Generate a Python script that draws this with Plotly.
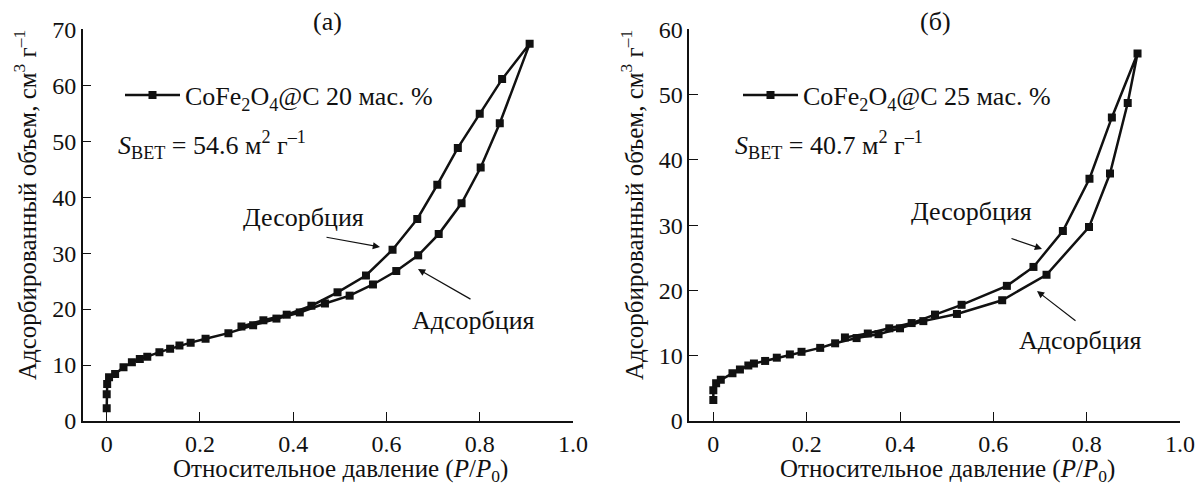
import plotly.graph_objects as go

W, H = 1197, 488

# ---- Panel (a): CoFe2O4@C 20 mass % ----
a_ads_x = [0.0, 0.0, 0.001, 0.005, 0.018, 0.036, 0.054, 0.071, 0.087, 0.113, 0.136, 0.156,
           0.180, 0.212, 0.261, 0.314, 0.364, 0.414, 0.468, 0.521, 0.571, 0.621, 0.668,
           0.712, 0.761, 0.802, 0.843, 0.907]
a_ads_y = [2.3, 4.8, 6.6, 7.8, 8.4, 9.6, 10.5, 11.1, 11.5, 12.3, 12.9, 13.5,
           14.0, 14.7, 15.7, 17.1, 18.3, 19.4, 21.0, 22.4, 24.4, 26.8, 29.6,
           33.4, 38.9, 45.3, 53.2, 67.4]
a_des_x = [0.848, 0.800, 0.753, 0.709, 0.666, 0.613, 0.556, 0.495, 0.439, 0.386, 0.336, 0.289]
a_des_y = [61.1, 54.9, 48.8, 42.2, 36.1, 30.6, 26.0, 23.0, 20.6, 19.0, 18.0, 16.9]

# ---- Panel (б): CoFe2O4@C 25 mass % ----
b_ads_x = [0.0, 0.0, 0.006, 0.016, 0.041, 0.057, 0.075, 0.087, 0.111, 0.136, 0.164, 0.189,
           0.229, 0.261, 0.307, 0.354, 0.400, 0.450, 0.522, 0.619, 0.714, 0.805, 0.850,
           0.888, 0.909]
b_ads_y = [3.2, 4.7, 5.8, 6.3, 7.3, 7.9, 8.5, 8.8, 9.2, 9.7, 10.2, 10.6,
           11.2, 11.9, 12.7, 13.3, 14.2, 15.3, 16.4, 18.5, 22.4, 29.7, 37.9,
           48.7, 56.3]
b_des_x = [0.854, 0.806, 0.749, 0.686, 0.629, 0.532, 0.475, 0.425, 0.377, 0.331, 0.282]
b_des_y = [46.5, 37.1, 29.1, 23.6, 20.7, 17.8, 16.3, 15.0, 14.2, 13.4, 12.8]

x_tickvals = [0, 0.2, 0.4, 0.6, 0.8, 1.0]
x_ticktext = ["0", "0.2", "0.4", "0.6", "0.8", "1.0"]
a_yticks = [0, 10, 20, 30, 40, 50, 60, 70]
b_yticks = [0, 10, 20, 30, 40, 50, 60]

label_a = "CoFe<sub>2</sub>O<sub>4</sub>@C 20 мас. %"
label_b = "CoFe<sub>2</sub>O<sub>4</sub>@C 25 мас. %"
sbet_a = "<i>S</i><sub>BET</sub> = 54.6 м<sup>2</sup> г<sup>–1</sup>"
sbet_b = "<i>S</i><sub>BET</sub> = 40.7 м<sup>2</sup> г<sup>–1</sup>"
xtitle = "Относительное давление (<i>P</i>/<i>P</i><sub>0</sub>)"
ytitle = "Адсорбированный объем, см<sup>3</sup> г<sup>–1</sup>"

FONT = "Liberation Serif, Times New Roman, Times, serif"
BLACK = "#111111"
FS = 26
TICKFS = 24

def px(x):
    return x / W

def py(y):
    return 1 - y / H

fig = go.Figure()
fig.add_trace(go.Scatter(
    x=a_ads_x + a_des_x, y=a_ads_y + a_des_y, mode="lines+markers", name=label_a,
    line=dict(color=BLACK, width=2.5), marker=dict(symbol="square", size=8, color=BLACK),
    xaxis="x", yaxis="y", legend="legend"))
fig.add_trace(go.Scatter(
    x=b_ads_x + b_des_x, y=b_ads_y + b_des_y, mode="lines+markers", name=label_b,
    line=dict(color=BLACK, width=2.5), marker=dict(symbol="square", size=8, color=BLACK),
    xaxis="x2", yaxis="y2", legend="legend2"))

ydom = [py(421), py(29.3)]
axcommon = dict(showgrid=False, zeroline=False, showline=True, linecolor=BLACK, linewidth=1.5,
                ticks="inside", ticklen=9, tickwidth=1.3, tickcolor=BLACK,
                tickfont=dict(family=FONT, size=TICKFS, color=BLACK), automargin=False)

xa = dict(axcommon, range=[-0.0515, 1.0], tickvals=x_tickvals, ticktext=x_ticktext)
legcommon = dict(xanchor="left", yanchor="middle", bgcolor="rgba(0,0,0,0)",
                 font=dict(family=FONT, size=FS, color=BLACK), itemwidth=55)
fig.update_layout(
    width=W, height=H, margin=dict(l=0, r=0, t=0, b=0),
    paper_bgcolor="white", plot_bgcolor="white",
    xaxis=dict(xa, domain=[px(82.7), px(573)], anchor="y"),
    yaxis=dict(axcommon, domain=ydom, range=[0, 70], tickvals=a_yticks, anchor="x"),
    xaxis2=dict(xa, domain=[px(689.3), px(1180)], anchor="y2"),
    yaxis2=dict(axcommon, domain=ydom, range=[0, 60], tickvals=b_yticks, anchor="x2"),
    legend=dict(legcommon, x=px(120), y=py(95)),
    legend2=dict(legcommon, x=px(738), y=py(95)),
    showlegend=True,
)

tfont = dict(family=FONT, size=FS, color=BLACK)
titfont = dict(family=FONT, size=25, color=BLACK)
anns = [
    dict(text="(а)", x=px(327), y=py(22), xanchor="center", yanchor="middle"),
    dict(text="(б)", x=px(935), y=py(22), xanchor="center", yanchor="middle"),
    dict(text=sbet_a, x=px(116), y=py(145), xanchor="left", yanchor="middle"),
    dict(text=sbet_b, x=px(733), y=py(145), xanchor="left", yanchor="middle"),
    dict(text="Десорбция", x=px(303), y=py(217), xanchor="center", yanchor="middle"),
    dict(text="Адсорбция", x=px(473), y=py(320), xanchor="center", yanchor="middle"),
    dict(text="Десорбция", x=px(971), y=py(212), xanchor="center", yanchor="middle"),
    dict(text="Адсорбция", x=px(1080), y=py(340), xanchor="center", yanchor="middle"),
]
for a in anns:
    a.update(xref="paper", yref="paper", showarrow=False, font=tfont)

titles = [
    dict(text=ytitle, x=px(25), y=py(205), xanchor="center", yanchor="middle", textangle=-90),
    dict(text=ytitle, x=px(632), y=py(205), xanchor="center", yanchor="middle", textangle=-90),
    dict(text=xtitle, x=px(340), y=py(470), xanchor="center", yanchor="middle"),
    dict(text=xtitle, x=px(947), y=py(470), xanchor="center", yanchor="middle"),
]
for a in titles:
    a.update(xref="paper", yref="paper", showarrow=False, font=titfont)
anns += titles

arrows = [
    (380, 247, -55, -10),
    (418, 269, 54, 31),
    (1042, 249, -32, -11),
    (1037, 291, 40, 31),
]
for hx, hy, axo, ayo in arrows:
    anns.append(dict(text="", x=px(hx), y=py(hy), xref="paper", yref="paper",
                     showarrow=True, ax=axo, ay=ayo, arrowhead=2, arrowsize=1.2,
                     arrowwidth=1.2, arrowcolor=BLACK))

fig.update_layout(annotations=anns)
fig.write_html("out.html", config={"displayModeBar": False},
               post_script="document.body.style.margin='0px';document.body.style.overflow='hidden';")
